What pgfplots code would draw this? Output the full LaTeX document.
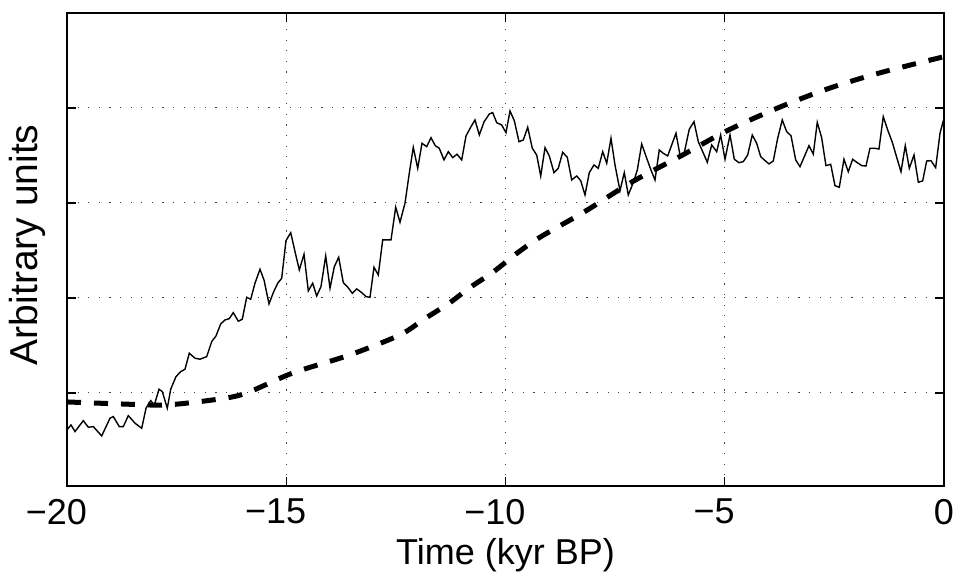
\documentclass[border=0pt]{standalone}
\usepackage{fontspec}
\setmainfont{Liberation Sans}
\usepackage{pgfplots}
\pgfplotsset{compat=1.18}

% noisy record
\pgfplotstableread{
x y
-20.000 0.611
-19.909 0.663
-19.818 0.593
-19.628 0.708
-19.514 0.639
-19.400 0.645
-19.209 0.547
-19.019 0.734
-18.944 0.751
-18.807 0.645
-18.716 0.645
-18.602 0.761
-18.449 0.681
-18.296 0.628
-18.198 0.839
-18.091 0.919
-18.009 0.871
-17.902 1.039
-17.827 1.014
-17.713 0.839
-17.635 1.039
-17.514 1.172
-17.407 1.224
-17.309 1.249
-17.211 1.418
-17.081 1.365
-16.967 1.355
-16.814 1.382
-16.700 1.540
-16.602 1.600
-16.495 1.726
-16.397 1.768
-16.299 1.782
-16.208 1.845
-16.094 1.755
-16.002 1.776
-15.902 2.007
-15.811 1.986
-15.713 2.155
-15.599 2.302
-15.507 2.189
-15.393 1.937
-15.295 2.056
-15.195 2.155
-15.104 2.207
-15.006 2.603
-14.898 2.687
-14.800 2.487
-14.702 2.295
-14.595 2.460
-14.497 2.074
-14.397 2.155
-14.306 2.021
-14.208 2.119
-14.100 2.442
-14.002 2.102
-13.904 2.329
-13.804 2.428
-13.699 2.161
-13.608 2.119
-13.494 2.049
-13.393 2.095
-13.279 2.056
-13.181 2.014
-13.090 2.007
-12.999 2.323
-12.901 2.242
-12.800 2.611
-12.611 2.611
-12.504 2.955
-12.406 2.797
-12.292 2.997
-12.194 3.313
-12.103 3.586
-12.002 3.365
-11.904 3.628
-11.797 3.593
-11.699 3.687
-11.601 3.603
-11.510 3.576
-11.403 3.453
-11.304 3.540
-11.204 3.477
-11.106 3.513
-10.999 3.453
-10.901 3.705
-10.794 3.797
-10.696 3.874
-10.597 3.716
-10.490 3.853
-10.369 3.937
-10.292 3.951
-10.201 3.845
-10.087 3.821
-9.989 3.740
-9.897 3.968
-9.799 3.866
-9.692 3.645
-9.594 3.663
-9.494 3.797
-9.389 3.576
-9.288 3.505
-9.197 3.284
-9.099 3.582
-9.001 3.495
-8.894 3.319
-8.796 3.365
-8.696 3.534
-8.591 3.481
-8.490 3.242
-8.376 3.284
-8.285 3.235
-8.187 3.084
-8.089 3.319
-7.982 3.400
-7.884 3.365
-7.783 3.540
-7.692 3.418
-7.594 3.681
-7.503 3.400
-7.389 3.129
-7.291 3.319
-7.200 3.084
-7.086 3.214
-6.994 3.347
-6.894 3.621
-6.780 3.471
-6.689 3.355
-6.591 3.242
-6.493 3.558
-6.402 3.523
-6.301 3.495
-6.210 3.611
-6.112 3.734
-6.021 3.505
-5.923 3.529
-5.809 3.776
-5.701 3.856
-5.603 3.645
-5.503 3.540
-5.398 3.428
-5.298 3.611
-5.184 3.540
-5.093 3.716
-4.994 3.460
-4.880 3.716
-4.782 3.460
-4.675 3.424
-4.577 3.435
-4.477 3.505
-4.372 3.716
-4.272 3.628
-4.180 3.487
-4.098 3.453
-3.991 3.411
-3.893 3.442
-3.793 3.681
-3.688 3.874
-3.588 3.751
-3.489 3.708
-3.382 3.453
-3.284 3.382
-3.186 3.487
-3.079 3.603
-2.981 3.513
-2.890 3.849
-2.790 3.687
-2.692 3.393
-2.584 3.407
-2.486 3.182
-2.388 3.165
-2.281 3.460
-2.183 3.329
-2.083 3.460
-1.978 3.424
-1.876 3.393
-1.779 3.389
-1.688 3.576
-1.590 3.576
-1.483 3.568
-1.385 3.908
-1.284 3.768
-1.179 3.639
-1.079 3.481
-0.981 3.329
-0.883 3.603
-0.791 3.365
-0.684 3.505
-0.586 3.218
-0.486 3.232
-0.395 3.442
-0.297 3.445
-0.190 3.372
-0.091 3.734
0.000 3.892
}\noisy

% smooth curve
\pgfplotstableread{
x y
-20.00 0.905
-18.79 0.884
-17.72 0.874
-16.51 0.937
-15.90 1.000
-14.85 1.210
-13.55 1.400
-12.41 1.610
-11.88 1.770
-11.27 1.950
-10.81 2.110
-10.29 2.270
-9.74 2.470
-9.21 2.640
-8.19 2.910
-7.12 3.220
-6.02 3.490
-4.95 3.760
-3.74 4.010
-2.60 4.210
-1.46 4.370
0.00 4.540
}\model

\begin{document}
\begin{tikzpicture}
\begin{axis}[
    scale only axis,
    width=438.5pt,
    height=236.5pt,
    xmin=-20, xmax=0,
    ymin=0.02, ymax=5,
    xtick={-20,-15,-10,-5,0},
    xticklabels={\llap{−}20,\llap{−}15,\llap{−}10,\llap{−}5,0},
    ytick={1,2,3,4},
    yticklabels={},
    tick align=inside,
    major tick length=4.5pt,
    tick style={black, line width=0.6pt},
    axis line style={line width=0.8pt},
    grid=major,
    major grid style={black!75, line width=0.5pt, dash pattern=on 0.6pt off 4.7pt},
    xticklabel style={font=\fontsize{18}{20}\selectfont, yshift=-3pt},
    xlabel={Time (kyr BP)},
    xlabel style={font=\fontsize{18}{20}\selectfont, at={(axis description cs:0.5,0)}, anchor=base, yshift=-39.5pt},
    ylabel={Arbitrary units},
    ylabel style={font=\fontsize{19.5}{22}\selectfont, at={(axis description cs:-0.034,0.51)}, anchor=base},
]
\addplot[black, line width=0.7pt] table[x=x, y=y] {\noisy};
\addplot[black, line width=2.5pt, smooth, line cap=butt, dash pattern=on 7pt off 6.5pt] table[x=x, y=y] {\model};
\end{axis}
\pgfresetboundingbox
\path[use as bounding box] ([xshift=-33.5pt,yshift=-43pt]current axis.south west) rectangle ([xshift=5pt,yshift=6.5pt]current axis.north east);
\end{tikzpicture}
\end{document}
